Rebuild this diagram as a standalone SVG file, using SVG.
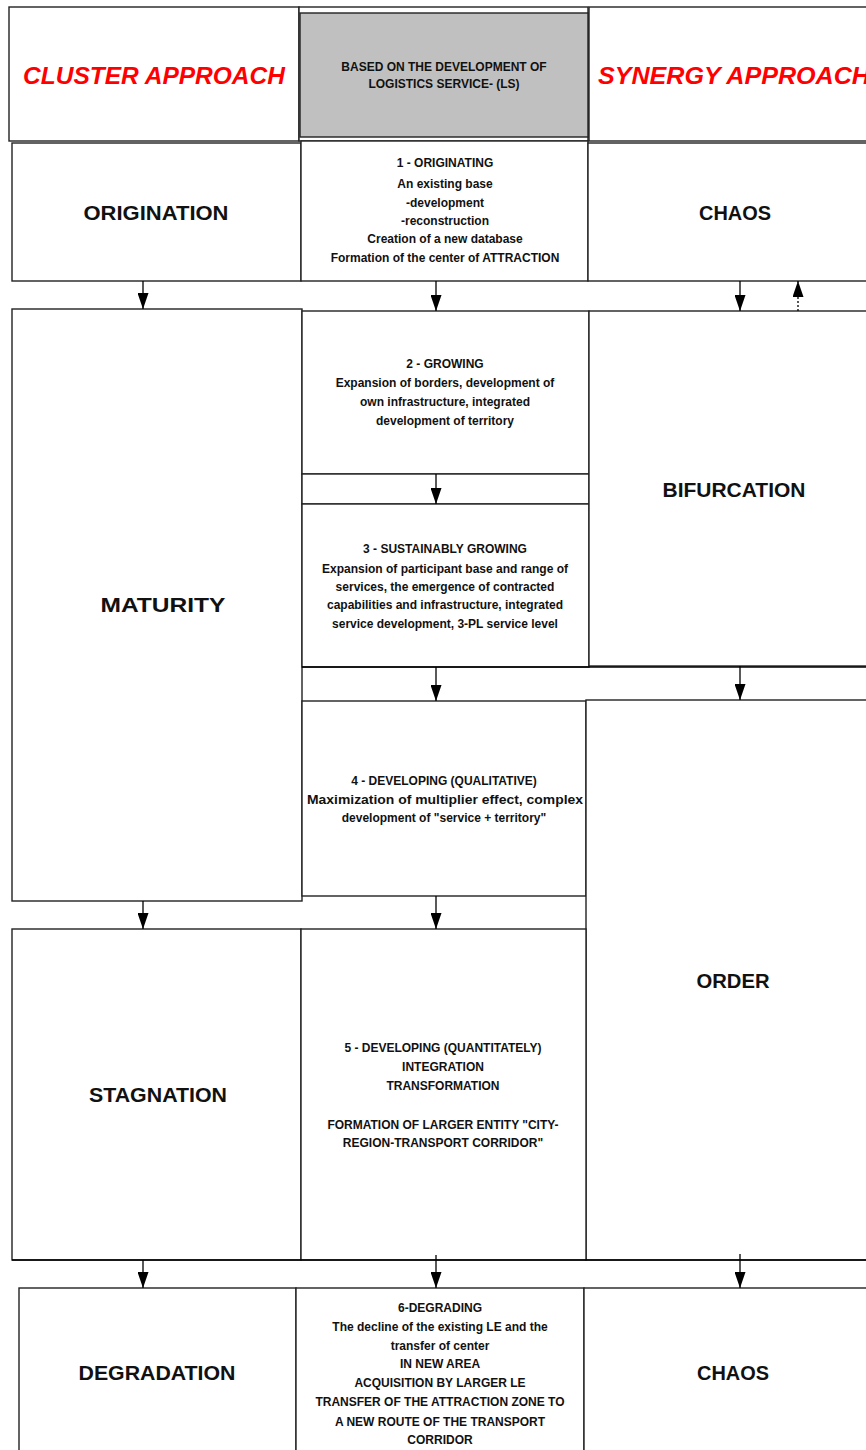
<svg xmlns="http://www.w3.org/2000/svg" width="866" height="1450" viewBox="0 0 866 1450">
<style>
.box{fill:#fff;stroke:#222;stroke-width:1.4}
.gray{fill:#c0c0c0;stroke:#222;stroke-width:1.4}
.hd{font-family:"Liberation Sans",Arial,sans-serif;font-weight:bold;font-style:italic;font-size:24.5px;fill:#ff0000}
.big{font-family:"Liberation Sans",Arial,sans-serif;font-weight:bold;font-size:21px;fill:#111;text-anchor:middle}
.sm{font-family:"Liberation Sans",Arial,sans-serif;font-weight:bold;font-size:12px;fill:#111;text-anchor:middle}
.ln{stroke:#000;stroke-width:1.3;fill:none}
</style>
<defs>
<marker id="ah" viewBox="0 0 16 11" refX="16" refY="5.5" markerWidth="16" markerHeight="11" markerUnits="userSpaceOnUse" orient="auto">
<path d="M0,0 L16,5.5 L0,11 z" fill="#000"/>
</marker>
</defs>

<g id="header-cluster">
<rect class="box" x="9" y="7" width="290" height="134"/>
<text class="hd" x="154" y="84" text-anchor="middle">CLUSTER APPROACH</text>
</g>
<g id="header-ls">
<rect class="box" x="299" y="7" width="289" height="134"/>
<rect class="gray" x="300" y="13" width="288" height="124"/>
<text class="sm" x="444" y="71" font-size="12.5">BASED ON THE DEVELOPMENT OF</text>
<text class="sm" x="444" y="88" font-size="12.5">LOGISTICS SERVICE- (LS)</text>
</g>
<g id="header-synergy">
<rect class="box" x="589" y="7" width="300" height="134"/>
<text class="hd" x="598" y="84" textLength="272" lengthAdjust="spacingAndGlyphs">SYNERGY APPROACH</text>
</g>

<g id="origination">
<rect class="box" x="12" y="143" width="289" height="138"/>
<text class="big" x="156" y="220" textLength="145" lengthAdjust="spacingAndGlyphs">ORIGINATION</text>
</g>
<g id="stage1">
<rect class="box" x="301" y="141" width="287" height="140"/>
<text class="sm" x="445" y="167">1 - ORIGINATING</text>
<text class="sm" x="445" y="188">An existing base</text>
<text class="sm" x="445" y="207">-development</text>
<text class="sm" x="445" y="225">-reconstruction</text>
<text class="sm" x="445" y="243">Creation of a new database</text>
<text class="sm" x="445" y="262">Formation of the center of ATTRACTION</text>
</g>
<g id="chaos-top">
<rect class="box" x="588" y="143" width="300" height="138"/>
<text class="big" x="735" y="220" textLength="72" lengthAdjust="spacingAndGlyphs">CHAOS</text>
</g>

<g id="maturity">
<rect class="box" x="12" y="309" width="290" height="592"/>
<text class="big" x="163" y="612" textLength="125" lengthAdjust="spacingAndGlyphs">MATURITY</text>
</g>
<g id="stage2">
<rect class="box" x="302" y="311" width="287" height="163"/>
<text class="sm" x="445" y="368">2 - GROWING</text>
<text class="sm" x="445" y="387">Expansion of borders, development of</text>
<text class="sm" x="445" y="406">own infrastructure, integrated</text>
<text class="sm" x="445" y="425">development of territory</text>
</g>
<g id="band23">
<rect class="box" x="302" y="474" width="287" height="30"/>
</g>
<g id="stage3">
<rect class="box" x="302" y="504" width="287" height="163"/>
<text class="sm" x="445" y="553">3 - SUSTAINABLY GROWING</text>
<text class="sm" x="445" y="573">Expansion of participant base and range of</text>
<text class="sm" x="445" y="591">services, the emergence of contracted</text>
<text class="sm" x="445" y="609">capabilities and infrastructure, integrated</text>
<text class="sm" x="445" y="628">service development, 3-PL service level</text>
</g>
<g id="bifurcation">
<rect class="box" x="589" y="311" width="300" height="355"/>
<text class="big" x="734" y="497" textLength="143" lengthAdjust="spacingAndGlyphs">BIFURCATION</text>
</g>

<g id="stage4">
<rect class="box" x="302" y="701" width="284" height="195"/>
<text class="sm" x="444" y="785">4 - DEVELOPING (QUALITATIVE)</text>
<text class="sm" x="445" y="804" textLength="276" lengthAdjust="spacingAndGlyphs">Maximization of multiplier effect, complex</text>
<text class="sm" x="444" y="822">development of "service + territory"</text>
</g>
<g id="order">
<rect class="box" x="586" y="700" width="303" height="560"/>
<text class="big" x="733" y="988" textLength="73" lengthAdjust="spacingAndGlyphs">ORDER</text>
</g>

<g id="stagnation">
<rect class="box" x="12" y="929" width="289" height="331"/>
<text class="big" x="158" y="1102" textLength="138" lengthAdjust="spacingAndGlyphs">STAGNATION</text>
</g>
<g id="stage5">
<rect class="box" x="301" y="929" width="285" height="331"/>
<text class="sm" x="443" y="1052">5 - DEVELOPING (QUANTITATELY)</text>
<text class="sm" x="443" y="1071">INTEGRATION</text>
<text class="sm" x="443" y="1090">TRANSFORMATION</text>
<text class="sm" x="443" y="1129">FORMATION OF LARGER ENTITY "CITY-</text>
<text class="sm" x="443" y="1147">REGION-TRANSPORT CORRIDOR"</text>
</g>

<g id="degradation">
<rect class="box" x="19" y="1288" width="277" height="180"/>
<text class="big" x="157" y="1380" textLength="157" lengthAdjust="spacingAndGlyphs">DEGRADATION</text>
</g>
<g id="stage6">
<rect class="box" x="296" y="1288" width="288" height="180"/>
<text class="sm" x="440" y="1312">6-DEGRADING</text>
<text class="sm" x="440" y="1331">The decline of the existing LE and the</text>
<text class="sm" x="440" y="1350">transfer of center</text>
<text class="sm" x="440" y="1368">IN NEW AREA</text>
<text class="sm" x="440" y="1387">ACQUISITION BY LARGER LE</text>
<text class="sm" x="440" y="1406">TRANSFER OF THE ATTRACTION ZONE TO</text>
<text class="sm" x="440" y="1426">A NEW ROUTE OF THE TRANSPORT</text>
<text class="sm" x="440" y="1444">CORRIDOR</text>
</g>
<g id="chaos-bottom">
<rect class="box" x="584" y="1288" width="305" height="180"/>
<text class="big" x="733" y="1380" textLength="72" lengthAdjust="spacingAndGlyphs">CHAOS</text>
</g>

<g id="connectors">
<line class="ln" x1="302" y1="667" x2="866" y2="667"/>
<line class="ln" x1="12" y1="1260" x2="866" y2="1260"/>
<line class="ln" x1="143" y1="281" x2="143" y2="309" marker-end="url(#ah)"/>
<line class="ln" x1="436" y1="281" x2="436" y2="311" marker-end="url(#ah)"/>
<line class="ln" x1="740" y1="281" x2="740" y2="311" marker-end="url(#ah)"/>
<line class="ln" x1="798" y1="311" x2="798" y2="281" stroke-dasharray="2,2" marker-end="url(#ah)"/>
<line class="ln" x1="436" y1="474" x2="436" y2="504" marker-end="url(#ah)"/>
<line class="ln" x1="436" y1="667" x2="436" y2="701" marker-end="url(#ah)"/>
<line class="ln" x1="740" y1="666" x2="740" y2="700" marker-end="url(#ah)"/>
<line class="ln" x1="143" y1="901" x2="143" y2="929" marker-end="url(#ah)"/>
<line class="ln" x1="436" y1="896" x2="436" y2="929" marker-end="url(#ah)"/>
<line class="ln" x1="143" y1="1260" x2="143" y2="1288" marker-end="url(#ah)"/>
<line class="ln" x1="436" y1="1255" x2="436" y2="1288" marker-end="url(#ah)"/>
<line class="ln" x1="740" y1="1254" x2="740" y2="1288" marker-end="url(#ah)"/>
</g>
</svg>
